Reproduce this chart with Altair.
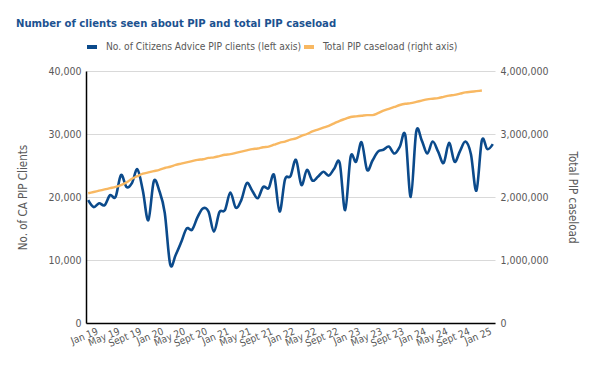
import json
import altair as alt
import pandas as pd

FONT = "DejaVu Sans Condensed"

title_text = "Number of clients seen about PIP and total PIP caseload"
series_names = ["No. of Citizens Advice PIP clients (left axis)", "Total PIP caseload (right axis)"]
series_colors = ["#0b4a8b", "#f8b862"]

tick_labels = ["Jan 19", "May 19", "Sept 19", "Jan 20", "May 20", "Sept 20", "Jan 21", "May 21",
               "Sept 21", "Jan 22", "May 22", "Sept 22", "Jan 23", "May 23", "Sept 23", "Jan 24",
               "May 24", "Sept 24", "Jan 25"]

# Monthly, Jan 2019 - Mar 2025
clients = [19500, 18400, 19000, 18700, 20300, 20000, 23500, 21600, 22200, 24400,
           21000, 16300, 22500, 21000, 17500, 9300, 10800, 12800, 15000, 14800,
           16800, 18200, 17700, 14500, 17600, 17900, 20700, 18300, 19500, 22200,
           21000, 19800, 21600, 21400, 23500, 17700, 22800, 23300, 25900, 21900,
           24300, 22600, 23200, 24000, 23400, 24500, 25400, 17900, 26400, 25600,
           28700, 24300, 25800, 27200, 27500, 28000, 26900, 28000, 29800, 20000,
           30400, 29000, 26900, 28800, 27200, 25400, 28600, 25600, 27300, 28800,
           26800, 21000, 29000, 27600, 28400]

# Monthly, Jan 2019 - Jan 2025
caseload = [2060000, 2080000, 2100000, 2120000, 2140000, 2160000, 2190000, 2230000, 2290000, 2330000,
            2370000, 2390000, 2410000, 2430000, 2460000, 2480000, 2510000, 2530000, 2550000, 2570000,
            2590000, 2600000, 2620000, 2630000, 2650000, 2670000, 2680000, 2700000, 2720000, 2740000,
            2760000, 2770000, 2790000, 2800000, 2830000, 2860000, 2880000, 2910000, 2930000, 2970000,
            3000000, 3040000, 3070000, 3100000, 3130000, 3170000, 3210000, 3240000, 3270000, 3280000,
            3290000, 3300000, 3300000, 3330000, 3370000, 3400000, 3430000, 3460000, 3480000, 3490000,
            3510000, 3530000, 3550000, 3560000, 3570000, 3590000, 3610000, 3620000, 3640000, 3660000,
            3670000, 3680000, 3690000]

blue_df = pd.DataFrame({"m": list(range(len(clients))), "value": clients, "series": series_names[0]})
orange_df = pd.DataFrame({"m": list(range(len(caseload))), "value": caseload, "series": series_names[1]})

label_expr = json.dumps(tick_labels) + "[round(datum.value / 4)]"

x_enc = alt.X(
    "m:Q",
    scale=alt.Scale(domain=[-0.4, 74.4], nice=False, zero=False),
    axis=alt.Axis(
        values=list(range(0, 73, 4)), labelExpr=label_expr, title=None, grid=False,
        domainColor="#000000", domainWidth=1.5, ticks=False, labelAngle=-22, labelAlign="right",
        labelBaseline="top", labelFontSize=10, labelColor="#595959", labelFont=FONT,
        labelPadding=3, labelOffset=7, labelOverlap=False,
    ),
)

color_enc = alt.Color(
    "series:N",
    scale=alt.Scale(domain=series_names, range=series_colors),
    legend=alt.Legend(
        title=None, orient="none", direction="horizontal", legendX=-1, legendY=-31,
        symbolType="stroke", symbolStrokeWidth=4, symbolSize=100, labelFont=FONT,
        labelFontSize=10.2, labelColor="#595959", labelOffset=7, columnPadding=-27,
        labelLimit=400,
    ),
)

blue = alt.Chart(blue_df).mark_line(interpolate="cardinal", strokeWidth=2.6).encode(
    x=x_enc,
    y=alt.Y(
        "value:Q",
        scale=alt.Scale(domain=[0, 40000], nice=False),
        axis=alt.Axis(
            orient="left", values=[0, 10000, 20000, 30000, 40000], format=",.0f",
            title="No. of CA PIP Clients", titleFont=FONT, titleFontSize=11.5,
            titleFontWeight="normal", titleColor="#595959", titlePadding=19,
            labelFont=FONT, labelFontSize=10.5, labelColor="#595959", labelPadding=5,
            ticks=False, domainColor="#000000", domainWidth=1.5,
            grid=True, gridColor="#d9d9d9", gridWidth=1,
        ),
    ),
    color=color_enc,
)

orange = alt.Chart(orange_df).mark_line(interpolate="monotone", strokeWidth=2.4).encode(
    x=x_enc,
    y=alt.Y(
        "value:Q",
        scale=alt.Scale(domain=[0, 4000000], nice=False),
        axis=alt.Axis(
            orient="right", values=[0, 1000000, 2000000, 3000000, 4000000], format=",.0f",
            title="Total PIP caseload", titleFont=FONT, titleFontSize=11.5,
            titleFontWeight="normal", titleColor="#595959", titlePadding=18,
            labelFont=FONT, labelFontSize=10.5, labelColor="#595959", labelPadding=5,
            ticks=False, domain=False, grid=False,
        ),
    ),
    color=color_enc,
)

chart = alt.layer(blue, orange).resolve_scale(y="independent").properties(
    width=409,
    height=252,
    padding={"left": 78, "top": 63, "right": 99, "bottom": 40},
    autosize=alt.AutoSizeParams(type="none"),
    title=alt.TitleParams(
        text=title_text, anchor="start", frame="group", dx=-70, offset=11,
        font=FONT, fontSize=11.2, fontWeight="bold", color="#1c5290",
    ),
).configure_view(stroke=None)

chart.save("out.html", embed_options={"renderer": "svg", "actions": False})
